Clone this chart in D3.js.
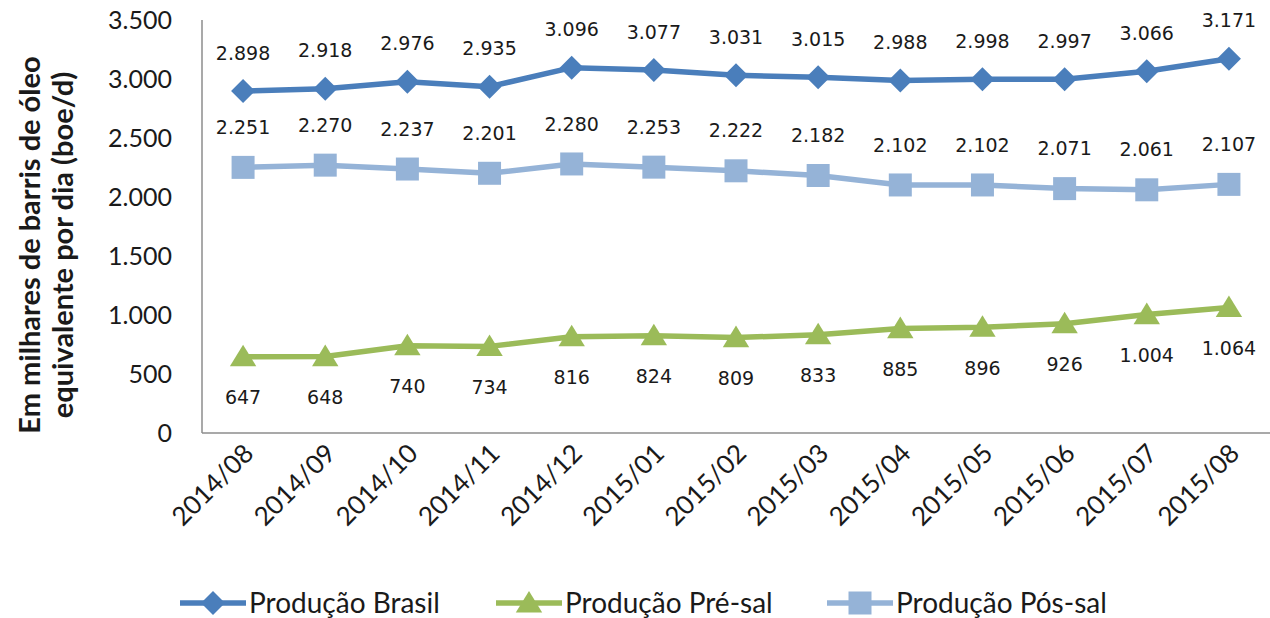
<!DOCTYPE html>
<html>
<head>
<meta charset="utf-8">
<script src="https://cdn.jsdelivr.net/npm/d3@7"></script>
<style>
  body { margin: 0; background: #fff; }
  svg { display: block; }
</style>
</head>
<body>
<svg width="1270" height="618"></svg>
<script>
// months on the x axis
var months = ['2014/08', '2014/09', '2014/10', '2014/11', '2014/12', '2015/01', '2015/02',
              '2015/03', '2015/04', '2015/05', '2015/06', '2015/07', '2015/08'];

// production, thousand boe/d
var brasil = [2898, 2918, 2976, 2935, 3096, 3077, 3031, 3015, 2988, 2998, 2997, 3066, 3171];
var preSal = [647, 648, 740, 734, 816, 824, 809, 833, 885, 896, 926, 1004, 1064];
var posSal = [2251, 2270, 2237, 2201, 2280, 2253, 2222, 2182, 2102, 2102, 2071, 2061, 2107];

var yTicks = [0, 500, 1000, 1500, 2000, 2500, 3000, 3500];

var series = [
  { name: 'Produção Brasil', values: brasil, color: '#4a7ebb', symbol: 'diamond', labelDy: -38 },
  { name: 'Produção Pré-sal', values: preSal, color: '#9bbb59', symbol: 'triangle', labelDy: 41 },
  { name: 'Produção Pós-sal', values: posSal, color: '#95b3d7', symbol: 'square', labelDy: -40 }
];

var svg = d3.select('svg');
var plotLeft = 202, plotRight = 1270, plotTop = 20, plotBottom = 433;

var x = d3.scaleBand().domain(months).range([plotLeft, plotRight]);
var y = d3.scaleLinear().domain([0, 3500]).range([plotBottom, plotTop]);
var cx = function(m) { return x(m) + x.bandwidth() / 2; };

var fmt = function(v) { return d3.format(',')(v).replace(/,/g, '.'); };

// axis lines
svg.append('line')
   .attr('x1', plotLeft).attr('x2', plotLeft).attr('y1', plotTop).attr('y2', plotBottom)
   .attr('stroke', '#8c8c8c').attr('stroke-width', 1.5);
svg.append('line')
   .attr('x1', plotLeft).attr('x2', plotRight).attr('y1', plotBottom).attr('y2', plotBottom)
   .attr('stroke', '#8c8c8c').attr('stroke-width', 1.5);

// y tick labels
svg.selectAll('.ytick')
   .data(yTicks)
   .enter()
   .append('text')
     .attr('class', 'ytick')
     .attr('x', 172)
     .attr('y', function(d) { return y(d); })
     .attr('dy', '0.35em')
     .attr('text-anchor', 'end')
     .style('font-family', 'Lato')
     .style('font-size', '25px')
     .style('fill', '#1a1a1a')
     .text(fmt);

// y title
var yTitle = svg.append('text')
   .attr('transform', 'translate(0,245) rotate(-90)')
   .attr('text-anchor', 'middle')
   .style('font-family', 'Lato')
   .style('font-weight', 'bold')
   .style('font-size', '29px')
   .style('fill', '#1a1a1a');
yTitle.append('tspan').attr('x', 0).attr('y', 40).text('Em milhares de barris de óleo');
yTitle.append('tspan').attr('x', 0).attr('y', 73).text('equivalente por dia (boe/d)');

// x tick labels
svg.selectAll('.xtick')
   .data(months)
   .enter()
   .append('text')
     .attr('class', 'xtick')
     .attr('transform', function(d) {
        return 'translate(' + (cx(d) + 12) + ',' + 455 + ') rotate(-45)';
     })
     .attr('text-anchor', 'end')
     .style('font-family', 'Lato')
     .style('font-size', '26px')
     .style('fill', '#1a1a1a')
     .text(function(d) { return d; });

var symbolPath = function(kind, s) {
  if (kind === 'diamond') return 'M0,' + (-s) + 'L' + s + ',0L0,' + s + 'L' + (-s) + ',0Z';
  if (kind === 'square') return 'M' + (-s) + ',' + (-s) + 'H' + s + 'V' + s + 'H' + (-s) + 'Z';
  return 'M0,' + (-s) + 'L' + (s * 1.1) + ',' + (s * 0.8) + 'L' + (-s * 1.1) + ',' + (s * 0.8) + 'Z';
};
var symbolSize = { diamond: 12, square: 11.5, triangle: 12 };

var line = d3.line()
   .x(function(d, i) { return cx(months[i]); })
   .y(function(d) { return y(d); });

series.forEach(function(s) {
  var g = svg.append('g');
  g.append('path')
     .datum(s.values)
     .attr('d', line)
     .attr('fill', 'none')
     .attr('stroke', s.color)
     .attr('stroke-width', 5.5)
     .attr('stroke-linejoin', 'round');

  g.selectAll('path.mark')
     .data(s.values)
     .enter()
     .append('path')
       .attr('class', 'mark')
       .attr('d', symbolPath(s.symbol, symbolSize[s.symbol]))
       .attr('transform', function(d, i) {
          return 'translate(' + cx(months[i]) + ',' + y(d) + ')';
       })
       .attr('fill', s.color);

  g.selectAll('text')
     .data(s.values)
     .enter()
     .append('text')
       .attr('x', function(d, i) { return cx(months[i]); })
       .attr('y', function(d) { return y(d) + s.labelDy; })
       .attr('dy', '0.35em')
       .attr('text-anchor', 'middle')
       .style('font-family', 'DejaVu Sans')
       .style('font-size', '19px')
       .style('fill', '#1a1a1a')
       .text(fmt);
});

// legend
var legendX = [180, 496, 827];
var legend = svg.selectAll('.legend')
   .data(series)
   .enter()
   .append('g')
     .attr('class', 'legend')
     .attr('transform', function(d, i) { return 'translate(' + legendX[i] + ',603)'; });
legend.append('line')
   .attr('x1', 0).attr('x2', 66)
   .attr('stroke', function(d) { return d.color; })
   .attr('stroke-width', 5.5);
legend.append('path')
   .attr('d', function(d) { return symbolPath(d.symbol, symbolSize[d.symbol]); })
   .attr('transform', 'translate(33,0)')
   .attr('fill', function(d) { return d.color; });
legend.append('text')
   .attr('x', 69)
   .attr('dy', '0.35em')
   .style('font-family', 'Lato')
   .style('font-size', '28px')
   .style('fill', '#1a1a1a')
   .text(function(d) { return d.name; });
</script>
</body>
</html>
